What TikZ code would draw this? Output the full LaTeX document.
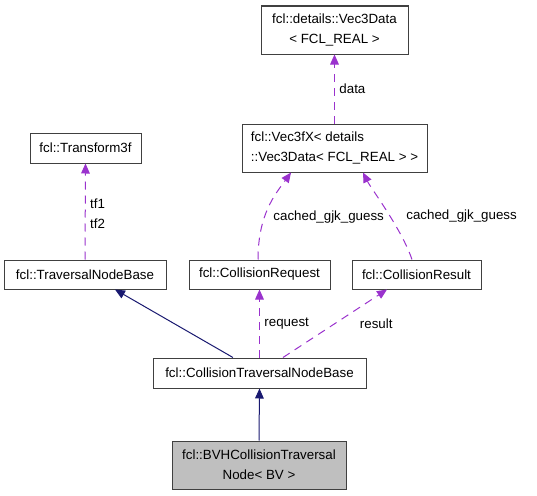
\documentclass[tikz,border=0pt]{standalone}
\usepackage{fontspec}
\setmainfont{Liberation Sans}
\usepackage{tikz}
\usetikzlibrary{arrows.meta}
\usepackage{xcolor}
\definecolor{edgepurple}{HTML}{9A32CD}
\definecolor{edgenavy}{HTML}{191970}
\definecolor{boxline}{HTML}{404040}

\begin{document}
\begin{tikzpicture}[x=0.75pt,y=-0.75pt,
  font=\fontsize{10}{15}\selectfont,
  cls/.style={draw=boxline, line width=0.75pt, inner sep=0pt, align=center},
  inherit/.style={edgenavy, line width=0.75pt, -{Triangle[length=7.5pt,width=6.5pt]}},
  member/.style={edgepurple, line width=0.75pt, dash pattern=on 6pt off 4.5pt, -{Triangle[length=7.5pt,width=6.5pt]}},
  lbl/.style={text=black}]
\useasboundingbox (0,0) rectangle (537,496);

% Classes
\node[cls, minimum width=110.25pt, minimum height=36pt] (vdata) at (334.5,30) {fcl::details::Vec3Data\\< FCL\_REAL >};
\node[cls, minimum width=83.25pt, minimum height=22.5pt] (tf) at (85.5,148) {fcl::Transform3f};
\node[cls, minimum width=138.75pt, minimum height=36pt, align=left] (vec) at (334.5,148) {fcl::Vec3fX< details\\::Vec3Data< FCL\_REAL > >};
\node[cls, minimum width=121.5pt, minimum height=21.75pt] (tnb) at (85,274.5) {fcl::TraversalNodeBase};
\node[cls, minimum width=105.75pt, minimum height=21.75pt] (req) at (259.5,274.5) {fcl::CollisionRequest};
\node[cls, minimum width=96.75pt, minimum height=21.75pt] (res) at (416.5,274.5) {fcl::CollisionResult};
\node[cls, minimum width=159.75pt, minimum height=22.5pt] (ctnb) at (259.5,373) {fcl::CollisionTraversalNodeBase};
\node[cls, fill=gray!50, minimum width=130.5pt, minimum height=36pt] (bvh) at (259,465) {fcl::BVHCollisionTraversal\\Node< BV >};

% Inheritance edges
\draw[inherit] (bvh.north) -- (ctnb.south);
\draw[inherit] ([xshift=-19.9pt]ctnb.north) -- ([xshift=22.5pt]tnb.south);

% Member edges
\draw[member] (ctnb.north) -- (req.south) node[lbl, midway, right] {request};
\draw[member] ([xshift=17.6pt]ctnb.north) -- ([xshift=-22.1pt]res.south)
  node[lbl, midway, anchor=west, xshift=15pt] {result};
\draw[member] (tnb.north) -- (tf.south) node[lbl, midway, right, align=left, yshift=-2pt] {tf1\\tf2};
\draw[member] ([xshift=-1.1pt]req.north) .. controls +(0,-45) and +(-16,22) .. ([xshift=-32.6pt]vec.south)
  node[lbl, pos=0.5, right, yshift=-7.5pt] {cached\_gjk\_guess};
\draw[member] ([xshift=-3.4pt]res.north) .. controls +(-10,-30) and +(8,16) .. ([xshift=21.4pt]vec.south)
  node[lbl, pos=0.5, right, xshift=11pt, yshift=-4pt] {cached\_gjk\_guess};
\draw[member] (vec.north) -- (vdata.south) node[lbl, midway, right] {data};
\end{tikzpicture}
\end{document}
